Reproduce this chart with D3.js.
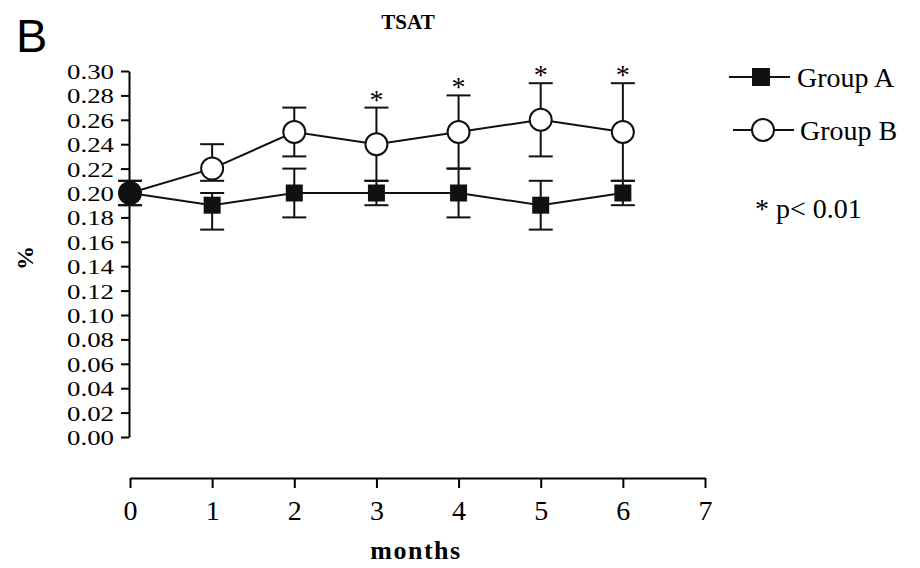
<!DOCTYPE html>
<html>
<head>
<meta charset="utf-8">
<script src="https://cdn.jsdelivr.net/npm/d3@7/dist/d3.min.js"></script>
<style>
  body { margin: 0; background: #fff; }
  svg { font-family: "Liberation Serif", "Times New Roman", serif; }
</style>
</head>
<body>
<svg id="chart" width="920" height="568"></svg>
<script>
// data
var months = [0, 1, 2, 3, 4, 5, 6];
var groupA = [0.20, 0.19, 0.20, 0.20, 0.20, 0.19, 0.20];
var groupAHigh = [0.21, 0.20, 0.22, 0.21, 0.22, 0.21, 0.21];
var groupALow = [0.19, 0.17, 0.18, 0.19, 0.18, 0.17, 0.19];
var groupB = [0.20, 0.22, 0.25, 0.24, 0.25, 0.26, 0.25];
var groupBHigh = [0.21, 0.24, 0.27, 0.27, 0.28, 0.29, 0.29];
var groupBLow = [0.19, 0.21, 0.23, 0.21, 0.22, 0.23, 0.21];
var significant = [3, 4, 5, 6];
var yTicks = [0, 0.02, 0.04, 0.06, 0.08, 0.10, 0.12, 0.14, 0.16, 0.18, 0.20, 0.22, 0.24, 0.26, 0.28, 0.30];
var xTicks = [0, 1, 2, 3, 4, 5, 6, 7];

var svg = d3.select("#chart");

var x = d3.scaleLinear().domain([0, 7]).range([130, 705]);
var y = d3.scaleLinear().domain([0, 0.30]).range([437, 71]);

// panel letter + title
svg.append("text").attr("x", 16).attr("y", 52)
  .style("font-family", "Liberation Sans, Arial, sans-serif")
  .style("font-size", "47px").text("B");
svg.append("text").attr("x", 408).attr("y", 29).attr("text-anchor", "middle")
  .style("font-weight", "bold").style("font-size", "21px").text("TSAT");

// y axis - labels packed tight like the scan, so narrow font stretched sideways
var yAxis = svg.append("g").attr("transform", "translate(129,0)")
  .call(d3.axisLeft(y).tickValues(yTicks).tickFormat(d3.format(".2f")).tickSize(8).tickSizeOuter(0));
yAxis.select(".domain").attr("stroke-width", 2);
yAxis.selectAll(".tick line").attr("stroke-width", 2);
yAxis.selectAll(".tick text").attr("x", 0).attr("dy", "0.34em")
  .attr("transform", "translate(-15,0) scale(1.22,1)")
  .style("font-size", "22px").style("font-family", "Liberation Serif, serif").attr("fill", "#000");

// x axis (detached, below)
var xAxis = svg.append("g").attr("transform", "translate(0,478)")
  .call(d3.axisBottom(x).tickValues(xTicks).tickFormat(d3.format("d")).tickSize(10).tickSizeOuter(0));
xAxis.select(".domain").attr("stroke-width", 2);
xAxis.selectAll(".tick line").attr("stroke-width", 2);
xAxis.selectAll(".tick text").attr("y", 22).attr("dy", "0.71em")
  .style("font-size", "28px").style("font-family", "Liberation Serif, serif").attr("fill", "#000");

// axis titles
svg.append("text").attr("x", 416).attr("y", 559).attr("text-anchor", "middle")
  .style("font-weight", "bold").style("font-size", "26px").style("letter-spacing", "1.5px").text("months");
svg.append("text").attr("transform", "translate(33,258) rotate(-90)").attr("text-anchor", "middle")
  .style("font-weight", "bold").style("font-size", "24px").text("%");

function series(vals, hi, lo) {
  return months.map(function (m, i) { return { m: m, v: vals[i], hi: hi[i], lo: lo[i] }; });
}
var dataA = series(groupA, groupAHigh, groupALow);
var dataB = series(groupB, groupBHigh, groupBLow);

var line = d3.line().x(function (d) { return x(d.m); }).y(function (d) { return y(d.v); });
var capW = 12;

function errorBars(data, cls) {
  var g = svg.append("g").attr("class", cls).attr("stroke", "#111").attr("stroke-width", 2);
  g.selectAll("line.bar").data(data).enter().append("line").attr("class", "bar")
    .attr("x1", function (d) { return x(d.m); }).attr("x2", function (d) { return x(d.m); })
    .attr("y1", function (d) { return y(d.hi); }).attr("y2", function (d) { return y(d.lo); });
  g.selectAll("line.hi").data(data).enter().append("line").attr("class", "hi")
    .attr("x1", function (d) { return x(d.m) - capW; }).attr("x2", function (d) { return x(d.m) + capW; })
    .attr("y1", function (d) { return y(d.hi); }).attr("y2", function (d) { return y(d.hi); });
  g.selectAll("line.lo").data(data).enter().append("line").attr("class", "lo")
    .attr("x1", function (d) { return x(d.m) - capW; }).attr("x2", function (d) { return x(d.m) + capW; })
    .attr("y1", function (d) { return y(d.lo); }).attr("y2", function (d) { return y(d.lo); });
}
errorBars(dataB, "errB");
errorBars(dataA, "errA");

svg.append("path").datum(dataB).attr("d", line).attr("fill", "none").attr("stroke", "#111").attr("stroke-width", 2);
svg.append("path").datum(dataA).attr("d", line).attr("fill", "none").attr("stroke", "#111").attr("stroke-width", 2);

// markers
svg.append("g").selectAll("rect").data(dataA).enter().append("rect")
  .attr("x", function (d) { return x(d.m) - 8.5; }).attr("y", function (d) { return y(d.v) - 8.5; })
  .attr("width", 17).attr("height", 17).attr("fill", "#111");
svg.append("g").selectAll("circle").data(dataB).enter().append("circle")
  .attr("cx", function (d) { return x(d.m); }).attr("cy", function (d) { return y(d.v); })
  .attr("r", 11)
  .attr("fill", function (d, i) { return d.v === groupA[i] ? "#111" : "#fff"; })
  .attr("stroke", "#111").attr("stroke-width", 2);

// significance stars
svg.append("g").selectAll("text").data(dataB.filter(function (d) { return significant.indexOf(d.m) >= 0; }))
  .enter().append("text")
  .attr("x", function (d) { return x(d.m); }).attr("y", function (d) { return y(d.hi) + 1; })
  .attr("text-anchor", "middle").style("font-size", "28px").text("*");

// legend
var legend = svg.append("g").attr("stroke", "#111").attr("stroke-width", 2);
legend.append("line").attr("x1", 729).attr("x2", 790).attr("y1", 77).attr("y2", 77);
legend.append("rect").attr("x", 753).attr("y", 69).attr("width", 16).attr("height", 16).attr("fill", "#111");
legend.append("line").attr("x1", 733).attr("x2", 794).attr("y1", 130).attr("y2", 130);
legend.append("circle").attr("cx", 763).attr("cy", 130).attr("r", 11).attr("fill", "#fff");
svg.append("text").attr("x", 797).attr("y", 87).style("font-size", "28px").text("Group A");
svg.append("text").attr("x", 800).attr("y", 140).style("font-size", "28px").text("Group B");
svg.append("text").attr("x", 755).attr("y", 218).style("font-size", "28px").text("* p< 0.01");
</script>
</body>
</html>
